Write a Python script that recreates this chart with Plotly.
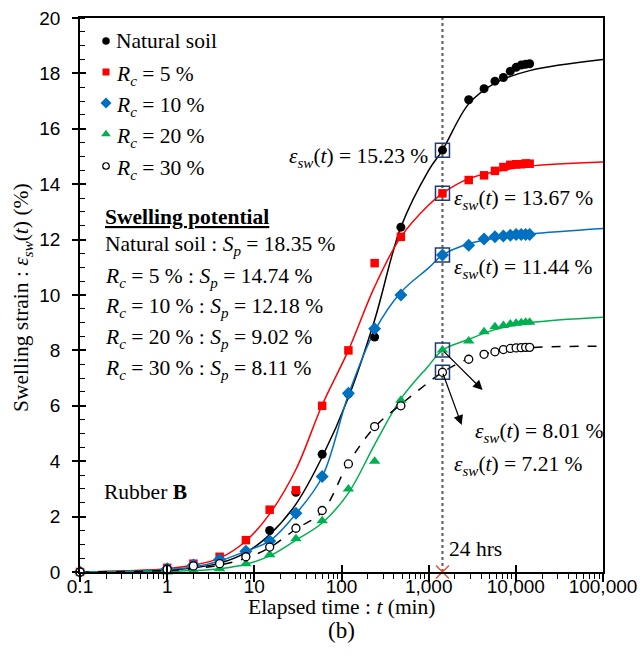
import numpy as np
import plotly.graph_objects as go

# ---- measured swelling strain (%) vs elapsed time (min) ----
times = [0.1, 1, 2, 4, 8, 15, 30, 60, 120, 240, 480, 1440,
         2880, 4320, 5760, 7200, 8640, 10080, 11520, 12960, 14400]
natural = [0, 0.10, 0.22, 0.40, 0.70, 1.50, 2.88, 4.25, 6.43, 8.48, 12.45, 15.23,
           17.05, 17.45, 17.72, 17.85, 18.08, 18.22, 18.30, 18.33, 18.35]
rc5 = [0, 0.15, 0.30, 0.55, 1.15, 2.25, 2.95, 6.00, 8.00, 11.15, 12.10, 13.67,
       14.15, 14.32, 14.48, 14.62, 14.70, 14.72, 14.72, 14.75, 14.74]
rc10 = [0, 0.12, 0.25, 0.45, 0.75, 1.12, 2.12, 3.45, 6.45, 8.78, 10.00, 11.44,
        11.80, 12.02, 12.10, 12.13, 12.16, 12.18, 12.18, 12.18, 12.18]
rc20 = [0, 0.00, 0.05, 0.12, 0.30, 0.62, 1.20, 1.85, 3.00, 4.00, 6.20, 8.01,
        8.34, 8.67, 8.85, 8.90, 8.95, 8.98, 9.00, 9.02, 9.02]
rc30 = [0, 0.10, 0.22, 0.30, 0.55, 0.90, 1.58, 2.22, 3.90, 5.25, 6.00, 7.21,
        7.68, 7.86, 7.95, 8.03, 8.07, 8.09, 8.10, 8.11, 8.11]

# ---- fitted swelling curves ----
fit_t = [0.1, 1, 2, 4, 8, 15, 30, 60, 120, 240, 480, 1000, 1440, 2880, 5760, 14400, 100000]
fit_natural = [0, 0.06, 0.15, 0.32, 0.70, 1.35, 2.45, 4.15, 6.30, 9.10, 12.45, 14.50, 15.23,
               16.90, 17.65, 18.10, 18.50]
fit_rc5 = [0, 0.12, 0.25, 0.50, 1.12, 2.10, 3.70, 6.03, 8.00, 10.30, 12.10, 13.25, 13.67,
           14.20, 14.45, 14.65, 14.80]
fit_rc10 = [0, 0.08, 0.18, 0.40, 0.75, 1.12, 2.10, 3.43, 6.40, 8.70, 10.10, 10.98, 11.44,
            11.85, 12.05, 12.20, 12.40]
fit_rc20 = [0, 0.02, 0.05, 0.12, 0.28, 0.58, 1.15, 1.77, 2.85, 4.60, 6.25, 7.45, 8.01,
            8.40, 8.75, 9.00, 9.20]
fit_rc30 = [0, 0.05, 0.12, 0.25, 0.50, 0.88, 1.55, 2.17, 3.93, 5.23, 6.05, 6.85, 7.21,
            7.70, 7.95, 8.10, 8.15]

T_24H = 1440
x_tickvals = [0.1, 1, 10, 100, 1000, 10000, 100000]
x_ticktext = ["0.1", "1", "10", "100", "1,000", "10,000", "100,000"]

RC = "<i>R</i><sub><i>c</i></sub>"
EPS = "<i>ε</i><sub><i>sw</i></sub>(<i>t</i>)"
SP = "<i>S</i><sub><i>p</i></sub>"

series = [
    dict(label="Natural soil", obs=natural, fit=fit_natural, color="black",
         symbol="circle", size=9, fill="black", dash="solid"),
    dict(label=f"{RC} = 5 %", obs=rc5, fit=fit_rc5, color="#ff0000",
         symbol="square", size=8.5, fill="#ff0000", dash="solid"),
    dict(label=f"{RC} = 10 %", obs=rc10, fit=fit_rc10, color="#0070c0",
         symbol="diamond", size=10, fill="#0070c0", dash="solid"),
    dict(label=f"{RC} = 20 %", obs=rc20, fit=fit_rc20, color="#00b050",
         symbol="triangle-up", size=10, fill="#00b050", dash="solid"),
    dict(label=f"{RC} = 30 %", obs=rc30, fit=fit_rc30, color="black",
         symbol="circle", size=8, fill="white", dash="dash"),
]

SERIF = "Liberation Serif"
SANS = "Liberation Sans"
FS = 21.5

# plot-area geometry in pixels
W, H = 644, 666
L, R, T, B = 80, 41, 18, 94


def px(xp, yp):
    """pixel position -> paper coordinates of the plot area"""
    return (xp - L) / (W - L - R), (H - B - yp) / (H - T - B)


fig = go.Figure()

# 24 h reference line
fig.add_shape(type="line", xref="x", yref="y", x0=T_24H, x1=T_24H, y0=0, y1=20,
              line=dict(color="#666666", width=2.2, dash="dot"), layer="below")

# fitted curves
for s in series:
    fig.add_trace(go.Scatter(x=fit_t, y=s["fit"], mode="lines", showlegend=False,
                             line=dict(color=s["color"], width=1.5, dash=s["dash"],
                                       shape="spline", smoothing=1.0),
                             hoverinfo="skip"))

# measured points
for s in series:
    fig.add_trace(go.Scatter(x=times, y=s["obs"], mode="markers", showlegend=False,
                             cliponaxis=False,
                             marker=dict(symbol=s["symbol"], size=s["size"], color=s["fill"],
                                         line=dict(color=s["color"],
                                                   width=1.3 if s["fill"] == "white" else 0))))

# boxes around the 24 h readings
i24 = times.index(T_24H)
v24 = [s["obs"][i24] for s in series]
fig.add_trace(go.Scatter(x=[T_24H] * len(v24), y=v24, mode="markers", showlegend=False,
                         marker=dict(symbol="square-open", size=14, color="#1f3b73",
                                     line=dict(width=1.5, color="#1f3b73"))))

# red cross on the time axis at 24 h
fig.add_trace(go.Scatter(x=[T_24H], y=[0], mode="markers", showlegend=False, cliponaxis=False,
                         marker=dict(symbol="x-thin-open", size=13,
                                     line=dict(width=1.6, color="#ff0000"))))

# hand-placed legend on an overlay axis spanning the plot area
leg_rows = [41, 72, 103, 134, 166]
leg_x, _ = px(106, 0)
leg_y = [px(0, r)[1] for r in leg_rows]
for s, yy in zip(series, leg_y):
    fig.add_trace(go.Scatter(x=[leg_x], y=[yy], xaxis="x2", yaxis="y2", mode="markers",
                             showlegend=False, cliponaxis=False,
                             marker=dict(symbol=s["symbol"], size=s["size"] - 1.5, color=s["fill"],
                                         line=dict(color=s["color"],
                                                   width=1.2 if s["fill"] == "white" else 0))))

# invisible trace to keep the overlay tick axis alive
fig.add_trace(go.Scatter(x=[1], y=[0], xaxis="x3", yaxis="y3", mode="markers",
                         marker=dict(opacity=0), showlegend=False, hoverinfo="skip"))

ann = []
txt_x, _ = px(114, 0)
for s, yy, row in zip(series, leg_y, leg_rows):
    # subscripted labels sit a little higher in their box
    yy_adj = yy if "sub" not in s["label"] else px(0, row + 3)[1]
    ann.append(dict(xref="paper", yref="paper", x=txt_x, y=yy_adj, text=s["label"],
                    xanchor="left", yanchor="middle", showarrow=False,
                    font=dict(family=SERIF, size=FS, color="black")))

# swelling potential block
sp_vals = [s["obs"][-1] for s in series]
sp_names = ["Natural soil"] + [f"{RC} = {r} %" for r in (5, 10, 20, 30)]
bx, by = px(103, 217)
ann.append(dict(xref="paper", yref="paper", x=bx, y=by,
                text="<b><u>Swelling potential</u></b>", xanchor="left", yanchor="middle",
                showarrow=False, font=dict(family=SERIF, size=FS, color="black")))
for name, v, row in zip(sp_names, sp_vals, [246, 277, 307, 338, 369]):
    _, yy = px(0, row)
    ann.append(dict(xref="paper", yref="paper", x=bx, y=yy,
                    text=f"{name} : {SP} = {v:.2f} %", xanchor="left", yanchor="middle",
                    showarrow=False, font=dict(family=SERIF, size=FS, color="black")))

rx, ry = px(102, 492)
ann.append(dict(xref="paper", yref="paper", x=rx, y=ry, text="Rubber <b>B</b>",
                xanchor="left", yanchor="middle", showarrow=False,
                font=dict(family=SERIF, size=FS, color="black")))

# 24 h value labels (log axis: x in decades)
lt = np.log10(T_24H)
eps_font = dict(family=SERIF, size=FS, color="black")
ann.append(dict(x=lt - 0.14, y=14.95, text=f"{EPS} = {v24[0]:.2f} %", xanchor="right",
                yanchor="middle", showarrow=False, font=eps_font))
ann.append(dict(x=lt + 0.11, y=13.43, text=f"{EPS} = {v24[1]:.2f} %", xanchor="left",
                yanchor="middle", showarrow=False, font=eps_font))
ann.append(dict(x=lt + 0.11, y=10.97, text=f"{EPS} = {v24[2]:.2f} %", xanchor="left",
                yanchor="middle", showarrow=False, font=eps_font))
ann.append(dict(x=lt + 0.35, y=5.02, text=f"{EPS} = {v24[3]:.2f} %", xanchor="left",
                yanchor="middle", showarrow=False, font=eps_font))
ann.append(dict(x=lt + 0.11, y=3.86, text=f"{EPS} = {v24[4]:.2f} %", xanchor="left",
                yanchor="middle", showarrow=False, font=eps_font))

# arrows from the 20 % and 30 % boxes to their labels
ann.append(dict(x=lt + 0.46, y=6.57, ax=lt, ay=v24[3], axref="x", ayref="y",
                showarrow=True, arrowhead=2, arrowsize=1.6, arrowwidth=1.2,
                arrowcolor="black", text=""))
ann.append(dict(x=lt + 0.22, y=5.31, ax=lt, ay=v24[4], axref="x", ayref="y",
                showarrow=True, arrowhead=2, arrowsize=1.6, arrowwidth=1.2,
                arrowcolor="black", text=""))

ann.append(dict(x=lt + 0.05, y=0.83, text="24 hrs", xanchor="left", yanchor="middle",
                showarrow=False, font=dict(family=SERIF, size=FS, color="black")))

# axis titles
_, ty = px(0, 607)
ann.append(dict(xref="paper", yref="paper", x=0.5, y=ty, text="Elapsed time : <i>t</i> (min)",
                xanchor="center", yanchor="middle", showarrow=False,
                font=dict(family=SERIF, size=FS, color="black")))
_, by2 = px(0, 630)
ann.append(dict(xref="paper", yref="paper", x=0.5, y=by2, text="(b)",
                xanchor="center", yanchor="middle", showarrow=False,
                font=dict(family=SERIF, size=23, color="black")))
yx, yy = px(22, 298)
ann.append(dict(xref="paper", yref="paper", x=yx, y=yy,
                text=f"Swelling strain : {EPS} (%)", textangle=-90,
                xanchor="center", yanchor="middle", showarrow=False,
                font=dict(family=SERIF, size=FS, color="black")))

fig.update_layout(
    width=W, height=H, margin=dict(l=L, r=R, t=T, b=B, autoexpand=False),
    paper_bgcolor="white", plot_bgcolor="white", showlegend=False,
    annotations=ann,
    xaxis=dict(type="log", range=[-1, 5], tickmode="array", tickvals=x_tickvals,
               ticktext=x_ticktext, ticks="outside", ticklen=8, tickwidth=1.5,
               tickcolor="black", showline=True, linecolor="black", linewidth=1.8,
               mirror=True, showgrid=False, zeroline=False, ticklabelstandoff=-12,
               automargin=False,
               tickfont=dict(family=SANS, size=19, color="black"),
               minor=dict(dtick="D1", ticks="outside", ticklen=5, tickwidth=1,
                          tickcolor="black", showgrid=False)),
    yaxis=dict(range=[0, 20], dtick=2, ticks="outside", ticklen=6, tickwidth=1.5,
               tickcolor="black", showline=True, linecolor="black", linewidth=1.8,
               mirror=True, showgrid=False, zeroline=False, ticklabelstandoff=8,
               automargin=False,
               tickfont=dict(family=SANS, size=19, color="black"),
               minor=dict(dtick=0.5, ticks="inside", ticklen=5, tickwidth=1,
                          tickcolor="black", showgrid=False)),
    xaxis2=dict(overlaying="x", range=[0, 1], visible=False, fixedrange=True),
    yaxis2=dict(overlaying="y", range=[0, 1], visible=False, fixedrange=True),
    xaxis3=dict(overlaying="x", type="log", range=[-1, 5], tickmode="array",
                tickvals=x_tickvals, ticks="inside", ticklen=7, tickwidth=1.5,
                tickcolor="black", showticklabels=False, showline=False, showgrid=False,
                zeroline=False),
    yaxis3=dict(overlaying="y", range=[0, 20], dtick=2, ticks="inside", ticklen=6,
                tickwidth=1.5, tickcolor="black", showticklabels=False, showline=False,
                showgrid=False, zeroline=False),
)

fig.write_html("out.html")
